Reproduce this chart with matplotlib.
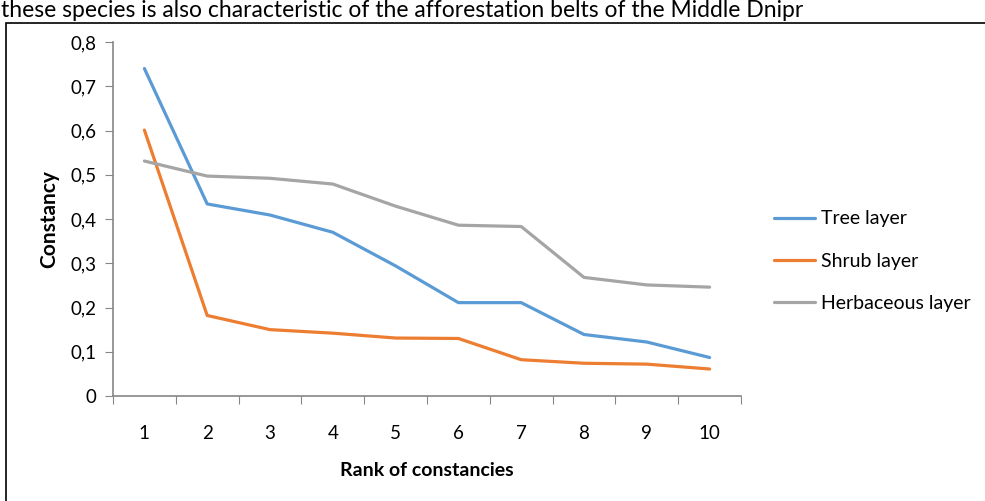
import matplotlib.pyplot as plt
from matplotlib.patches import Rectangle

# data
ranks = [1, 2, 3, 4, 5, 6, 7, 8, 9, 10]
tree_layer = [0.740, 0.434, 0.409, 0.370, 0.294, 0.211, 0.211, 0.139, 0.122, 0.087]
shrub_layer = [0.601, 0.182, 0.150, 0.142, 0.131, 0.130, 0.082, 0.074, 0.072, 0.061]
herb_layer = [0.531, 0.497, 0.492, 0.479, 0.429, 0.386, 0.383, 0.268, 0.251, 0.246]
series_names = ['Tree layer', 'Shrub layer', 'Herbaceous layer']
y_ticks = [0, 0.1, 0.2, 0.3, 0.4, 0.5, 0.6, 0.7, 0.8]

colors = ['#5B9BD5', '#ED7D31', '#A5A5A5']
plt.rcParams['font.family'] = ['Lato', 'DejaVu Sans']

fig = plt.figure(figsize=(9.85, 5.01), dpi=100)

# text line of the page above the chart
fig.text(0.001, 1 - 17 / 501, 'these species is also characteristic of the afforestation belts of the Middle Dnipr',
         fontsize=16.5, color='black', va='baseline', ha='left')

# chart frame
fig.patches.append(Rectangle((6 / 985, -0.01), 1.0, 1 - 23 / 501 + 0.01, transform=fig.transFigure,
                             fill=False, edgecolor='black', linewidth=1.2))

ax = fig.add_axes([113 / 985, 105 / 501, 628 / 985, 354 / 501])
for vals, name, c in zip([tree_layer, shrub_layer, herb_layer], series_names, colors):
    ax.plot(ranks, vals, color=c, linewidth=2.3, label=name, solid_capstyle='round')

ax.set_xlim(0.5, 10.5)
ax.set_ylim(0, 0.8)
ax.set_yticks(y_ticks)
ax.set_yticklabels(['0' if v == 0 else f'{v:.1f}'.replace('.', ',') for v in y_ticks])
ax.set_xticks([r - 0.5 for r in ranks] + [10.5])
ax.set_xticklabels([])
ax.set_xticks(ranks, minor=True)
ax.set_xticklabels([str(r) for r in ranks], minor=True)
ax.tick_params(axis='x', which='minor', length=0, pad=21, labelsize=13.5)
ax.tick_params(axis='x', which='major', length=6, color='#868686', direction='out')
ax.tick_params(axis='y', length=6, color='#868686', labelsize=13.5, pad=6)

for s in ['top', 'right']:
    ax.spines[s].set_visible(False)
for s in ['left', 'bottom']:
    ax.spines[s].set_color('#868686')
    ax.spines[s].set_linewidth(1.2)

ax.set_ylabel('Constancy', fontsize=15, fontweight='bold', labelpad=8)
ax.set_xlabel('Rank of constancies', fontsize=14, fontweight='bold', labelpad=14)

ax.legend(loc='center left', bbox_to_anchor=(1 + (774 - 741) / 628, 0.381), frameon=False, fontsize=14,
          handlelength=2.1, handletextpad=0.3, labelspacing=1.3, borderaxespad=0, borderpad=0)

fig.savefig('out.png', dpi=100)
